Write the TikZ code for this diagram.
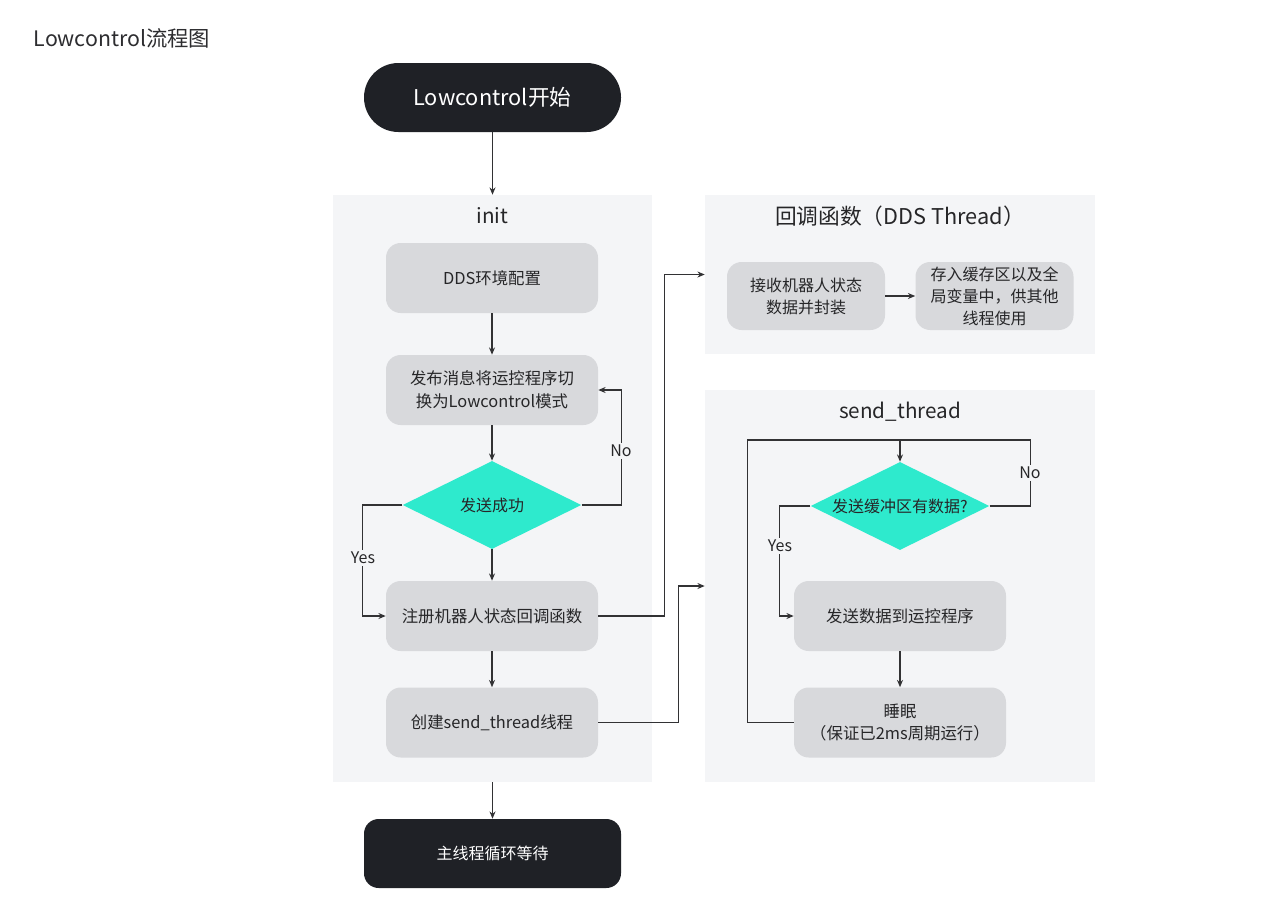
\documentclass[tikz,border=0pt]{standalone}
\usepackage{fontspec}
\setmainfont{Noto Sans CJK SC}
\usetikzlibrary{shapes.geometric,arrows.meta}
\definecolor{darkc}{RGB}{31,33,38}
\definecolor{boxg}{RGB}{216,217,220}
\definecolor{contbg}{RGB}{244,245,247}
\definecolor{teal}{RGB}{46,234,205}
\definecolor{txt}{RGB}{38,38,40}
\definecolor{linec}{RGB}{50,50,52}
\definecolor{titlec}{RGB}{45,45,48}
\begin{document}
\begin{tikzpicture}[x=0.75pt,y=-0.75pt,
  every node/.style={font=\fontsize{12}{16.5}\selectfont, text=txt},
  arr/.style={draw=linec, line width=1pt, -{Stealth[length=5.5pt,width=4.5pt]}},
  plain/.style={draw=linec, line width=1pt},
  box/.style={fill=boxg, rounded corners=11pt, minimum width=159pt, minimum height=52.5pt, align=center, inner sep=0pt, font=\fontsize{12.3}{17}\selectfont},
  sbox/.style={box, minimum width=118.5pt, minimum height=51pt, font=\fontsize{12}{16.5}\selectfont},
  darkbox/.style={fill=darkc, text=white, minimum width=192.75pt, minimum height=51.75pt, inner sep=0pt},
  cont/.style={fill=contbg, inner sep=0pt},
  ctitle/.style={font=\fontsize{15.5}{18}\selectfont, text=txt},
  dia/.style={shape=diamond, aspect=2.05, fill=teal, minimum width=134pt, minimum height=66pt, inner sep=0pt, font=\fontsize{12}{14}\selectfont},
  lbl/.style={fill=contbg, inner sep=1.5pt, font=\fontsize{12}{14}\selectfont}
]
\useasboundingbox[fill=white] (0,0) rectangle (1280,910);

\node[anchor=west, font=\fontsize{16}{19}\selectfont, text=titlec] (ttl) at (29,38) {Lowcontrol流程图};

% containers
\node[cont, minimum width=239.25pt, minimum height=440.25pt] (init) at (492.5,488.5) {};
\node[ctitle] (initt) at (492.5,216) {init};
\node[cont, minimum width=292.5pt, minimum height=119.25pt] (cb) at (900,274.5) {};
\node[ctitle, font=\fontsize{16.3}{18}\selectfont] (cbt) at (900,216) {回调函数（DDS Thread）};
\node[cont, minimum width=292.5pt, minimum height=294pt] (st) at (900,586) {};
\node[ctitle] (stt) at (900,412) {send\_thread};

% start / end
\node[darkbox, rounded corners=25.8pt, font=\fontsize{16.3}{18}\selectfont] (start) at (492.5,97.5) {Lowcontrol开始};
\node[darkbox, rounded corners=11pt, font=\fontsize{12}{14}\selectfont] (endn) at (492.5,853.5) {主线程循环等待};

% init boxes
\node[box] (dds) at (492,278) {DDS环境配置};
\node[box] (pub) at (492,390) {发布消息将运控程序切\\换为Lowcontrol模式};
\node[dia] (d1) at (492,505) {发送成功};
\node[box] (reg) at (492,616) {注册机器人状态回调函数};
\node[box] (cre) at (492,722.5) {创建send\_thread线程};

% callback boxes
\node[sbox] (rcv) at (806,296) {接收机器人状态\\数据并封装};
\node[sbox] (store) at (994.5,296) {存入缓存区以及全\\局变量中，供其他\\线程使用};

% send thread boxes
\node[dia] (d2) at (900,506) {发送缓冲区有数据?};
\node[box] (snd) at (900,616) {发送数据到运控程序};
\node[box] (slp) at (900,722.5) {睡眠\\（保证已2ms周期运行）};

% connectors
\draw[arr] (start) -- (init.north);
\draw[arr] (dds) -- (pub);
\draw[arr] (pub) -- (d1.north);
\draw[arr] (d1.south) -- (reg);
\draw[arr] (reg) -- (cre);
\draw[arr] (init.south) -- (endn);
\draw[arr] (d1.east) -- ++(40,0) |- (pub.east);
\draw[arr] (d1.west) -- ++(-40,0) |- (reg.west);
\draw[arr] (reg.east) -- ++(66,0) |- (cb.west);
\draw[arr] (cre.east) -- ++(80,0) |- (st.west);
\draw[arr] (rcv) -- (store);

\coordinate (top) at (900,440);
\draw[arr] (slp.west) -- ++(-46,0) |- (top) -- (d2.north);
\draw[plain] (d2.east) -- ++(41,0) |- (top);
\draw[arr] (d2.west) -- ++(-31,0) |- (snd.west);
\draw[arr] (snd) -- (slp);

% labels
\node[lbl] (no1) at (621,451) {No};
\node[lbl] (yes1) at (363,558) {Yes};
\node[lbl] (no2) at (1030,473) {No};
\node[lbl] (yes2) at (780,546) {Yes};
\end{tikzpicture}
\end{document}
